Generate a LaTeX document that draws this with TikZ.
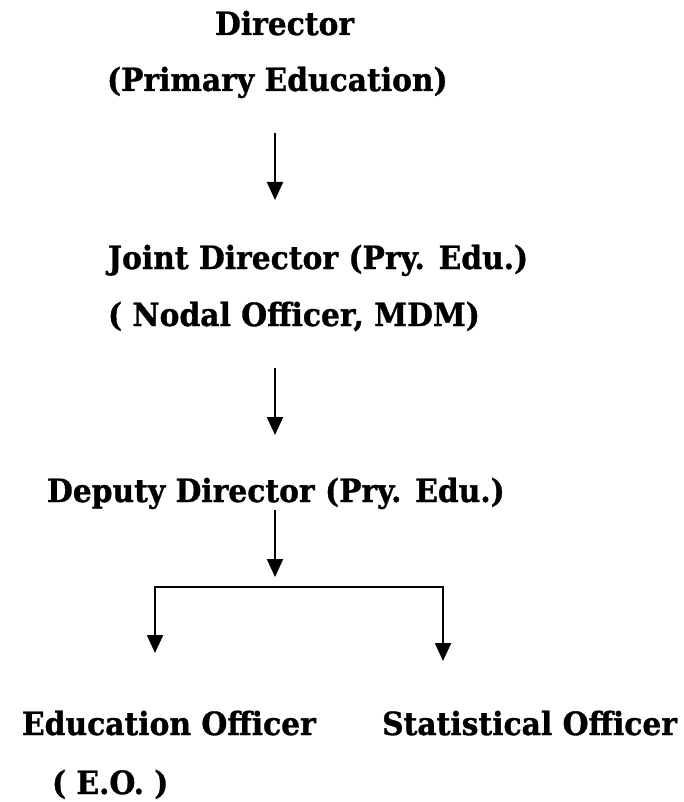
\documentclass[tikz,border=0pt]{standalone}
\usepackage{fontspec}
\setmainfont{DejaVu Serif}[FakeStretch=0.93,BoldFeatures={FakeBold=1}]
\usetikzlibrary{arrows.meta}
\begin{document}
\begin{tikzpicture}[x=1pt,y=-1pt,
  lbl/.style={inner sep=0pt,outer sep=0pt,font=\fontsize{32}{38}\selectfont\bfseries},
  arr/.style={line width=2.2pt,-{Triangle[length=18pt,width=16pt]}},
  ln/.style={line width=2.2pt}]
\useasboundingbox (0,0) rectangle (684,802);
\node[lbl,anchor=base west] (dir) at (215,35) {Director};
\node[lbl,anchor=base west] (dir2) at (107,91) {(Primary Education)};
\node[lbl,anchor=base west] (jd) at (108,269) {Joint Director (Pry. Edu.)};
\node[lbl,anchor=base west] (jd2) at (108,326) {( Nodal Officer, MDM)};
\node[lbl,anchor=base west] (dd) at (47,502) {Deputy Director (Pry. Edu.)};
\node[lbl,anchor=base west] (eo) at (22,735) {Education Officer};
\node[lbl,anchor=base west] (eo2) at (52,794) {( E.O. )};
\node[lbl,anchor=base east] (so) at (677,735) {Statistical Officer};
\coordinate (a1s) at (275,133);
\coordinate (a1e) at (275,200);
\coordinate (a2s) at (275,368);
\coordinate (a2e) at (275,435);
\coordinate (a3s) at (275,510);
\coordinate (a3e) at (275,577);
\coordinate (hl) at (155,587);
\coordinate (hr) at (443,587);
\coordinate (le) at (155,653);
\coordinate (re) at (443,661);
\draw[arr] (a1s) -- (a1e);
\draw[arr] (a2s) -- (a2e);
\draw[arr] (a3s) -- (a3e);
\draw[ln,line cap=rect] (hl) -- (hr);
\draw[arr] (hl) -- (le);
\draw[arr] (hr) -- (re);
\end{tikzpicture}
\end{document}
